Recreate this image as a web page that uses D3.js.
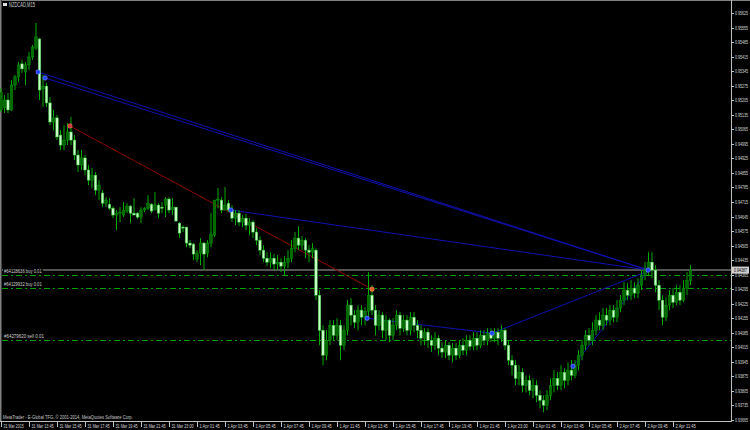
<!DOCTYPE html>
<html><head><meta charset="utf-8">
<script src="https://cdn.jsdelivr.net/npm/d3@7"></script>
<style>html,body{margin:0;padding:0;background:#000;} svg{display:block}</style>
</head><body>
<svg id="c" width="750" height="430"></svg>
<script>
// OHLC values (NZDCAD, M15)
const opens = [0.95158,0.95168,0.95206,0.95158,0.95278,0.95317,0.95380,0.95341,0.95375,0.95413,
0.95456,0.95500,0.95259,0.95273,0.95192,0.95100,0.95120,0.95037,0.94989,0.95013,
0.95052,0.95013,0.94941,0.94893,0.94927,0.94869,0.94820,0.94844,0.94772,0.94758,
0.94709,0.94704,0.94685,0.94652,0.94661,0.94652,0.94671,0.94695,0.94661,0.94661,
0.94642,0.94676,0.94685,0.94704,0.94676,0.94700,0.94690,0.94700,0.94729,0.94676,
0.94690,0.94613,0.94594,0.94594,0.94517,0.94512,0.94440,0.94469,0.94517,0.94469,
0.94517,0.94555,0.94724,0.94724,0.94676,0.94709,0.94676,0.94637,0.94661,0.94618,
0.94637,0.94603,0.94618,0.94570,0.94531,0.94483,0.94444,0.94425,0.94444,0.94416,
0.94425,0.94406,0.94425,0.94444,0.94492,0.94541,0.94507,0.94531,0.94483,0.94473,
0.94483,0.94266,0.94097,0.93977,0.94049,0.94121,0.94073,0.94121,0.94025,0.94097,
0.94218,0.94170,0.94136,0.94194,0.94160,0.94189,0.94266,0.94194,0.94121,0.94170,
0.94097,0.94146,0.94073,0.94121,0.94170,0.94107,0.94146,0.94097,0.94160,0.94121,
0.94097,0.94059,0.94088,0.94049,0.94025,0.94059,0.94011,0.93992,0.94025,0.93977,
0.94011,0.93977,0.94025,0.94001,0.94049,0.94020,0.94059,0.94025,0.94073,0.94049,
0.94083,0.94059,0.94088,0.94059,0.94097,0.94025,0.93953,0.93929,0.93866,0.93895,
0.93832,0.93856,0.93808,0.93832,0.93784,0.93760,0.93736,0.93784,0.93832,0.93866,
0.93832,0.93895,0.93856,0.93905,0.93880,0.93929,0.93977,0.94025,0.94073,0.94049,
0.94097,0.94146,0.94121,0.94170,0.94146,0.94194,0.94160,0.94204,0.94242,0.94290,
0.94266,0.94300,0.94276,0.94314,0.94362,0.94387,0.94425,0.94387,0.94314,0.94242,
0.94160,0.94218,0.94266,0.94232,0.94280,0.94242,0.94300,0.94338];
const highs = [0.95264,0.95230,0.95240,0.95302,0.95327,0.95389,0.95399,0.95389,0.95437,0.95471,
0.95577,0.95505,0.95327,0.95288,0.95220,0.95158,0.95134,0.95061,0.95085,0.95095,
0.95124,0.95037,0.94965,0.94965,0.94941,0.94893,0.94879,0.94859,0.94820,0.94772,
0.94738,0.94733,0.94695,0.94676,0.94690,0.94714,0.94709,0.94700,0.94733,0.94666,
0.94690,0.94690,0.94748,0.94709,0.94762,0.94709,0.94714,0.94738,0.94738,0.94733,
0.94690,0.94618,0.94603,0.94594,0.94531,0.94517,0.94483,0.94541,0.94521,0.94531,
0.94661,0.94724,0.94782,0.94738,0.94787,0.94724,0.94700,0.94676,0.94676,0.94652,
0.94657,0.94637,0.94628,0.94589,0.94550,0.94507,0.94473,0.94473,0.94464,0.94459,
0.94444,0.94454,0.94483,0.94531,0.94570,0.94599,0.94550,0.94541,0.94507,0.94517,
0.94492,0.94290,0.94121,0.94097,0.94146,0.94146,0.94155,0.94146,0.94121,0.94242,
0.94252,0.94194,0.94218,0.94218,0.94208,0.94377,0.94314,0.94218,0.94194,0.94184,
0.94170,0.94155,0.94155,0.94194,0.94184,0.94170,0.94170,0.94184,0.94184,0.94146,
0.94121,0.94107,0.94107,0.94073,0.94088,0.94073,0.94040,0.94049,0.94040,0.94035,
0.94035,0.94049,0.94059,0.94073,0.94073,0.94088,0.94088,0.94097,0.94097,0.94107,
0.94107,0.94107,0.94107,0.94121,0.94107,0.94049,0.93977,0.93953,0.93929,0.93914,
0.93880,0.93880,0.93866,0.93856,0.93808,0.93784,0.93808,0.93866,0.93905,0.93895,
0.93929,0.93914,0.93943,0.93953,0.93953,0.94001,0.94049,0.94097,0.94107,0.94136,
0.94170,0.94184,0.94204,0.94204,0.94218,0.94218,0.94242,0.94266,0.94329,0.94324,
0.94338,0.94329,0.94348,0.94387,0.94425,0.94473,0.94473,0.94411,0.94338,0.94266,
0.94256,0.94290,0.94300,0.94314,0.94314,0.94338,0.94377,0.94411];
const lows = [0.95148,0.95143,0.95143,0.95153,0.95254,0.95293,0.95336,0.95278,0.95351,0.95399,
0.95447,0.95206,0.95172,0.95172,0.95085,0.95061,0.95013,0.94965,0.94965,0.94989,
0.94989,0.94917,0.94859,0.94869,0.94844,0.94796,0.94782,0.94748,0.94724,0.94690,
0.94690,0.94676,0.94637,0.94579,0.94618,0.94642,0.94661,0.94613,0.94652,0.94632,
0.94613,0.94666,0.94676,0.94661,0.94676,0.94637,0.94661,0.94642,0.94661,0.94652,
0.94623,0.94541,0.94570,0.94497,0.94492,0.94435,0.94425,0.94411,0.94387,0.94449,
0.94497,0.94546,0.94685,0.94661,0.94676,0.94666,0.94618,0.94603,0.94599,0.94594,
0.94579,0.94555,0.94541,0.94507,0.94459,0.94425,0.94406,0.94396,0.94387,0.94387,
0.94377,0.94362,0.94396,0.94425,0.94473,0.94483,0.94483,0.94444,0.94425,0.94444,
0.94242,0.94025,0.93929,0.93953,0.94025,0.94049,0.94049,0.93953,0.94001,0.94073,
0.94121,0.94107,0.94097,0.94121,0.94121,0.94146,0.94170,0.94073,0.94097,0.94059,
0.94049,0.94040,0.94049,0.94097,0.94073,0.94088,0.94073,0.94073,0.94088,0.94059,
0.94025,0.94025,0.94011,0.93992,0.94001,0.93977,0.93963,0.93963,0.93953,0.93943,
0.93953,0.93963,0.93977,0.93977,0.94001,0.94001,0.94001,0.94011,0.94025,0.94025,
0.94040,0.94040,0.94025,0.94040,0.94001,0.93929,0.93880,0.93832,0.93832,0.93798,
0.93798,0.93784,0.93770,0.93750,0.93722,0.93702,0.93712,0.93760,0.93798,0.93808,
0.93808,0.93818,0.93832,0.93856,0.93866,0.93905,0.93953,0.94001,0.94025,0.94025,
0.94073,0.94097,0.94097,0.94121,0.94121,0.94136,0.94136,0.94184,0.94218,0.94242,
0.94242,0.94252,0.94252,0.94290,0.94338,0.94362,0.94348,0.94280,0.94194,0.94121,
0.94141,0.94194,0.94204,0.94218,0.94218,0.94232,0.94266,0.94314];
const closes = [0.95244,0.95206,0.95158,0.95278,0.95317,0.95375,0.95356,0.95375,0.95413,0.95461,
0.95510,0.95254,0.95273,0.95192,0.95100,0.95120,0.95028,0.94989,0.95013,0.95052,
0.95013,0.94941,0.94893,0.94927,0.94869,0.94820,0.94844,0.94772,0.94796,0.94709,
0.94724,0.94685,0.94652,0.94661,0.94666,0.94676,0.94695,0.94661,0.94652,0.94642,
0.94676,0.94685,0.94709,0.94671,0.94700,0.94661,0.94685,0.94729,0.94676,0.94690,
0.94623,0.94565,0.94589,0.94517,0.94507,0.94464,0.94469,0.94517,0.94464,0.94517,
0.94560,0.94724,0.94729,0.94676,0.94700,0.94676,0.94637,0.94661,0.94618,0.94637,
0.94603,0.94618,0.94570,0.94531,0.94483,0.94444,0.94425,0.94444,0.94416,0.94425,
0.94406,0.94425,0.94444,0.94492,0.94541,0.94507,0.94531,0.94483,0.94473,0.94492,
0.94266,0.94097,0.93977,0.94049,0.94121,0.94073,0.94121,0.94025,0.94097,0.94218,
0.94170,0.94136,0.94194,0.94160,0.94189,0.94266,0.94194,0.94121,0.94170,0.94097,
0.94146,0.94073,0.94121,0.94170,0.94107,0.94146,0.94097,0.94160,0.94121,0.94097,
0.94059,0.94088,0.94049,0.94025,0.94059,0.94011,0.93992,0.94025,0.93977,0.94011,
0.93977,0.94025,0.94001,0.94049,0.94020,0.94059,0.94025,0.94073,0.94049,0.94083,
0.94059,0.94088,0.94059,0.94097,0.94025,0.93953,0.93929,0.93866,0.93895,0.93832,
0.93856,0.93808,0.93832,0.93784,0.93760,0.93736,0.93784,0.93832,0.93866,0.93832,
0.93895,0.93856,0.93905,0.93880,0.93929,0.93977,0.94025,0.94073,0.94049,0.94097,
0.94146,0.94121,0.94170,0.94146,0.94194,0.94160,0.94204,0.94242,0.94290,0.94266,
0.94300,0.94276,0.94314,0.94362,0.94387,0.94425,0.94387,0.94314,0.94242,0.94160,
0.94218,0.94266,0.94232,0.94280,0.94242,0.94300,0.94338,0.94387];

const timeLabels = ["31 Mar 2015","31 Mar 13:45","31 Mar 15:45","31 Mar 17:45","31 Mar 19:45","31 Mar 21:45","31 Mar 23:00",
"1 Apr 01:45","1 Apr 03:45","1 Apr 05:45","1 Apr 07:45","1 Apr 09:45","1 Apr 11:45","1 Apr 13:45","1 Apr 15:45",
"1 Apr 17:45","1 Apr 19:45","1 Apr 21:45","1 Apr 23:00","2 Apr 01:45","2 Apr 03:45","2 Apr 05:45","2 Apr 07:45",
"2 Apr 09:45","2 Apr 11:45"];
const timeLabelBars = [0,8,16,24,32,40,48,56,64,72,80,88,96,104,112,120,128,136,144,152,160,168,176,184,192];
const priceTicks = [0.95625,0.95555,0.95485,0.95415,0.95345,0.95275,0.95205,0.95135,0.95065,0.94995,
0.94925,0.94855,0.94785,0.94715,0.94645,0.94575,0.94505,0.94435,0.94365,0.94295,0.94225,0.94155,
0.94085,0.94015,0.93945,0.93875,0.93805,0.93735,0.93665];
const bidPrice = 0.94387;
const orderLabels = ["#64128636 buy 0.01","#64129932 buy 0.01","#64279620 sell 0.01"];
const orderPrices = [0.94365,0.94301,0.94050];
// trade history lines: [bar, price] -> [bar, price]
const blueFrom = [[10.6,0.95341],[12.6,0.95312],[65.7,0.94676],[104.6,0.94155],[140.3,0.94083],[163.4,0.93924]];
const blueTo = [[184.9,0.94387],[184.9,0.94387],[184.9,0.94387],[140.3,0.94083],[184.9,0.94382],[184.9,0.94382]];
const redFrom = [19.7,0.95081];
const redTo = [106,0.94295];

const svg = d3.select("#c");
const W = 750, H = 430, plotR = 731, plotB = 421;
const x = d3.scaleLinear().domain([0, 197]).range([1, 690.5]);
const y = d3.scaleLinear().domain([0.93665, 0.95625]).range([420, 13]);
const font = "'Liberation Sans', Arial, sans-serif";

// text squeezed horizontally to the target width (reference uses a tiny condensed font)
function txt(g, tx, ty, s, len, fill, size) {
  const gg = g.append("g");
  const t = gg.append("text").attr("x", 0).attr("y", 0).attr("fill", fill).attr("font-size", size || 6)
    .attr("font-family", font).text(s);
  const nat = t.node().getComputedTextLength();
  const sx = nat > 0 ? len / nat : 1;
  gg.attr("transform", `translate(${tx},${ty}) scale(${sx},1)`);
  return gg;
}

svg.append("rect").attr("width", W).attr("height", H).attr("fill", "#000");
// frame
svg.append("line").attr("x1",0).attr("x2",W).attr("y1",0.5).attr("y2",0.5).attr("stroke","#808080");
svg.append("line").attr("x1",0.5).attr("x2",0.5).attr("y1",0).attr("y2",plotB).attr("stroke","#808080");
svg.append("line").attr("x1",1.5).attr("x2",1.5).attr("y1",0).attr("y2",plotB).attr("stroke","#404040");

// order lines
const og = svg.append("g");
orderPrices.forEach((p, k) => {
  og.append("line").attr("x1", 2).attr("x2", plotR).attr("y1", Math.round(y(p)) + 0.5).attr("y2", Math.round(y(p)) + 0.5)
    .attr("stroke", "#00a000").attr("stroke-dasharray", "6,3,2,3");
});
// bid line
svg.append("line").attr("x1", 2).attr("x2", plotR).attr("y1", y(bidPrice)).attr("y2", y(bidPrice))
  .attr("stroke", "#707070").attr("stroke-width", 1.5);
// order labels on black boxes
const olg = svg.append("g");
orderPrices.forEach((p, k) => {
  const len = orderLabels[k].length * 2.1;
  olg.append("rect").attr("x", 3).attr("y", y(p) - 7).attr("width", len + 2).attr("height", 6).attr("fill", "#000");
  txt(olg, 4, y(p) - 2, orderLabels[k], len, "#d0d0d0", 6);
});

// trade lines
const tl = svg.append("g");
blueFrom.forEach((f, k) => {
  tl.append("line").attr("x1", x(f[0])).attr("y1", y(f[1])).attr("x2", x(blueTo[k][0])).attr("y2", y(blueTo[k][1]))
    .attr("stroke", "#1010b0").attr("stroke-width", 1);
});
tl.append("line").attr("x1", x(redFrom[0])).attr("y1", y(redFrom[1])).attr("x2", x(redTo[0])).attr("y2", y(redTo[1]))
  .attr("stroke", "#900000").attr("stroke-width", 1);

// candles
const idx = d3.range(closes.length);
const cg = svg.append("g");
const bw = 2.6;
idx.forEach(i => {
  const up = closes[i] >= opens[i];
  const cx = x(i);
  cg.append("line").attr("x1", cx).attr("x2", cx).attr("y1", y(highs[i])).attr("y2", y(lows[i]))
    .attr("stroke", "#00a800").attr("stroke-width", 1);
  const top = y(Math.max(opens[i], closes[i])), bot = y(Math.min(opens[i], closes[i]));
  cg.append("rect").attr("x", cx - bw / 2).attr("y", top).attr("width", bw).attr("height", Math.max(0.8, bot - top))
    .attr("fill", up ? "#006a00" : "#c8ffc8").attr("stroke", up ? "#009000" : "#30c030").attr("stroke-width", 0.5);
});

// markers
const mg = svg.append("g");
blueFrom.forEach(f => {
  mg.append("circle").attr("cx", x(f[0])).attr("cy", y(f[1])).attr("r", 2.2).attr("fill", "#2040ff").attr("stroke", "#8090ff").attr("stroke-width", 0.6);
});
mg.append("circle").attr("cx", x(blueTo[0][0])).attr("cy", y(blueTo[0][1])).attr("r", 2.2).attr("fill", "#2040ff").attr("stroke", "#8090ff").attr("stroke-width", 0.6);
mg.append("circle").attr("cx", x(redFrom[0])).attr("cy", y(redFrom[1])).attr("r", 2.2).attr("fill", "#d03030").attr("stroke", "#ff8080").attr("stroke-width", 0.6);
mg.append("circle").attr("cx", x(redTo[0])).attr("cy", y(redTo[1])).attr("r", 2.2).attr("fill", "#e06020").attr("stroke", "#ffa060").attr("stroke-width", 0.6);

// right axis
const ra = svg.append("g");
ra.append("line").attr("x1", plotR + 0.5).attr("x2", plotR + 0.5).attr("y1", 0).attr("y2", plotB + 0.5).attr("stroke", "#c0c0c0");
priceTicks.forEach(p => {
  ra.append("line").attr("x1", plotR).attr("x2", plotR + 3).attr("y1", Math.round(y(p)) + 0.5).attr("y2", Math.round(y(p)) + 0.5).attr("stroke", "#c0c0c0");
  txt(ra, plotR + 4, y(p) + 2, p.toFixed(5), 13, "#d8d8d8", 6);
});
ra.append("rect").attr("x", plotR + 1).attr("y", y(bidPrice) - 3.5).attr("width", 17).attr("height", 7).attr("fill", "#d0d0d0");
txt(ra, plotR + 3, y(bidPrice) + 2, bidPrice.toFixed(5), 13, "#000", 6);

// bottom axis
const ba = svg.append("g");
ba.append("line").attr("x1", 0).attr("x2", plotR + 1).attr("y1", plotB + 0.5).attr("y2", plotB + 0.5).attr("stroke", "#c0c0c0");
timeLabelBars.forEach((b, k) => {
  const tx = Math.round(x(b)) + 0.5;
  ba.append("line").attr("x1", tx).attr("x2", tx).attr("y1", plotB).attr("y2", plotB + 6).attr("stroke", "#c0c0c0");
  txt(ba, tx + 2, plotB + 6.5, timeLabels[k], timeLabels[k].length * 1.85, "#d8d8d8", 6);
});

// title + footer
svg.append("rect").attr("x", 3).attr("y", 3).attr("width", 4).attr("height", 3).attr("fill", "#e0e0e0");
txt(svg, 9, 7, "NZDCAD,M15", 26, "#d0d0d0", 6.5);
txt(svg, 3, 419, "MetaTrader - E-Global TFG, © 2001-2014, MetaQuotes Software Corp.", 130, "#c8c8c8", 6);
</script>
</body></html>
